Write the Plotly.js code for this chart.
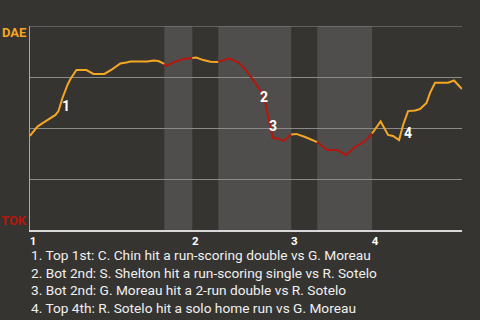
<!DOCTYPE html>
<html>
<head>
<meta charset="utf-8">
<script src="https://cdn.plot.ly/plotly-3.0.1.min.js"></script>
<style>
html,body{margin:0;padding:0;background:#363430;}
#chart{width:480px;height:320px;}
</style>
</head>
<body>
<div id="chart"></div>
<script>
// Game progress (x) and DAE win probability in % (y)
const progress = [0,3.5,7.5,11.5,18.5,25.5,28.5,32.5,37.5,40.5,46.5,56.5,63.5,74.5,82.5,90.5,96.5,100.5,117.5,123.5,128.5,131.5,134.5,136.5,142.5,153.5,162.5,166.5,173.5,180.5,188.5,194.5,199.5,208.5,215.5,220.5,226.5,232.5,235.5,237.5,240.5,243,248.5,253.5,261.5,266.5,275.5,282.5,287.5,297.5,307.5,316.5,324.5,335.5,342.5,351,358.5,363.5,369.5,373.5,378.5,385.5,390.5,397,400.5,405.5,418.5,424.5,432.5];
const winProb = [46.1,48.5,50.7,52.0,54.2,56.4,58.3,64.7,71.1,74.0,78.4,78.4,76.5,76.5,78.9,81.6,82.1,82.6,82.6,83.1,82.8,82.1,81.4,80.4,81.9,83.8,84.3,84.5,83.3,82.5,82.4,83.3,84.2,82.1,78.9,75.5,71.6,67.2,62.3,57.8,52.0,45.1,44.9,43.6,46.8,47.1,45.6,44.1,43.1,39.2,39.2,36.8,40.4,43.6,47.3,53.2,46.6,46.1,44.1,51.5,58.3,58.6,59.3,62.3,67.2,72.2,72.2,73.3,69.1];

// Half-inning boundaries (top / bottom alternating)
const halfInningStarts = [0,134.5,162.5,188.5,261.5,287.5,342.5];
const gameEnd = 432.5;
const inningTicks = [0,162.5,261.5,342.5];
const inningLabels = ['1','2','3','4'];

// Key plays
const eventX = [36.5,234.5,243.5,378.5];
const eventY = [60.8,65.2,51.0,47.5];
const eventLabels = ['1','2','3','4'];
const eventTexts = [
  '1. Top 1st: C. Chin hit a run-scoring double vs G. Moreau',
  '2. Bot 2nd: S. Shelton hit a run-scoring single vs R. Sotelo',
  '3. Bot 2nd: G. Moreau hit a 2-run double vs R. Sotelo',
  '4. Top 4th: R. Sotelo hit a solo home run vs G. Moreau'
];
const teamTop = 'DAE';
const teamBottom = 'TOK';

const ORANGE = '#f5a623';
const RED = '#b5170d';
const BG = '#363430';
const BAND = '#4f4e4c';
const GRID = '#8a8a88';
const FONT = 'Roboto, "Noto Sans", sans-serif';

const traces = [];
const shapes = [];
for (let i = 0; i < halfInningStarts.length; i++) {
  const a = halfInningStarts[i];
  const b = i + 1 < halfInningStarts.length ? halfInningStarts[i + 1] : gameEnd;
  const isBottom = i % 2 === 1;
  const xs = [], ys = [];
  progress.forEach((x, k) => { if (x >= a && x <= b) { xs.push(x); ys.push(winProb[k]); } });
  traces.push({
    x: xs, y: ys, type: 'scatter', mode: 'lines',
    line: {color: isBottom ? RED : ORANGE, width: 2},
    hoverinfo: 'skip', showlegend: false
  });
  if (isBottom) {
    shapes.push({type: 'rect', xref: 'x', yref: 'paper', x0: a, x1: b, y0: 0, y1: 1,
      fillcolor: BAND, line: {width: 0}, layer: 'below'});
  }
}
// top gridline at 100%
shapes.push({type: 'line', xref: 'paper', yref: 'y', x0: 0, x1: 1, y0: 100, y1: 100,
  line: {color: GRID, width: 1}, layer: 'below'});

const annotations = [];
eventX.forEach((x, i) => {
  annotations.push({x: x, y: eventY[i], xref: 'x', yref: 'y', text: '<b>' + eventLabels[i] + '</b>',
    showarrow: false, font: {family: FONT, size: 14, color: '#ffffff'}});
});
annotations.push({x: -0.037, y: 0.966, xref: 'paper', yref: 'paper', text: '<b>' + teamTop + '</b>',
  showarrow: false, xanchor: 'center', yanchor: 'middle', font: {family: FONT, size: 13, color: ORANGE}});
annotations.push({x: -0.037, y: 0.049, xref: 'paper', yref: 'paper', text: '<b>' + teamBottom + '</b>',
  showarrow: false, xanchor: 'center', yanchor: 'middle', font: {family: FONT, size: 13, color: RED}});
const lineY = [255, 272.5, 290, 308];
eventTexts.forEach((t, i) => {
  annotations.push({x: 0, y: (230 - lineY[i]) / 204, xref: 'paper', yref: 'paper', text: t,
    showarrow: false, xanchor: 'left', yanchor: 'middle', xshift: -1,
    font: {family: FONT, size: 13.7, color: '#f0f0f0'}});
});

const layout = {
  width: 480, height: 320,
  margin: {l: 30, r: 18, t: 26, b: 90, pad: 0},
  paper_bgcolor: BG, plot_bgcolor: BG,
  showlegend: false,
  xaxis: {
    range: [0, gameEnd], tickvals: inningTicks, ticktext: inningLabels.map(s => '<b>' + s + '</b>'),
    showgrid: false, zeroline: false, showline: true, linecolor: '#d8d8d8', linewidth: 1.5,
    ticks: '', ticklabelshift: 3, ticklabelstandoff: 0,
    tickfont: {family: FONT, size: 11.5, color: '#ffffff'}, fixedrange: true
  },
  yaxis: {
    range: [0, 100], tickvals: [0, 25, 50, 75, 100], showticklabels: false,
    showgrid: true, gridcolor: GRID, gridwidth: 1, zeroline: false,
    showline: true, linecolor: '#a8a8a6', linewidth: 1, ticks: '', fixedrange: true
  },
  shapes: shapes,
  annotations: annotations
};

Plotly.newPlot('chart', traces, layout, {displayModeBar: false, staticPlot: true});
</script>
</body>
</html>
